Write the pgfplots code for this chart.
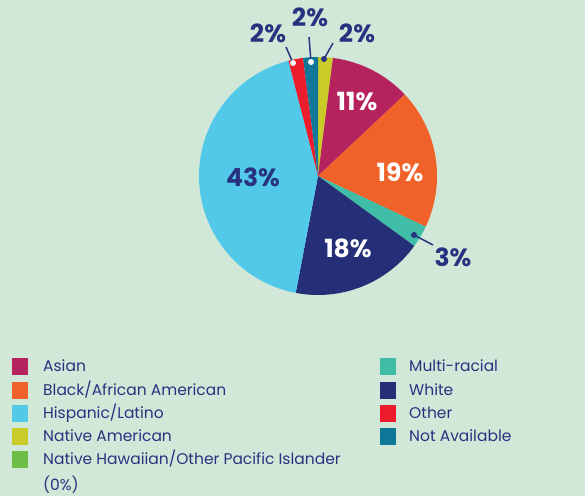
\documentclass[border=0pt]{standalone}
\usepackage{pgfplots}
\usepackage{pgfplotstable}
\pgfplotsset{compat=1.18}
\usepackage{fontspec}
\setmainfont{Poppins}
\definecolor{bg}{HTML}{D1E8D9}
\definecolor{navy}{HTML}{283380}
\definecolor{cAsian}{HTML}{B5235F}
\definecolor{cBlack}{HTML}{F1622B}
\definecolor{cHisp}{HTML}{52C9E9}
\definecolor{cNat}{HTML}{C9CC26}
\definecolor{cHaw}{HTML}{6CBE47}
\definecolor{cMulti}{HTML}{3FBDA6}
\definecolor{cWhite}{HTML}{252F78}
\definecolor{cOther}{HTML}{EC1C2D}
\definecolor{cNA}{HTML}{107799}
% clockwise from 12 o'clock
\pgfplotstableread{
label value color
Native 2 cNat
Asian 11 cAsian
Black 19 cBlack
Multi 3 cMulti
White 18 cWhite
Hispanic 43 cHisp
Other 2 cOther
NA 2 cNA
}\piedata
\begin{document}
\begin{tikzpicture}
\fill[bg] (0,0) rectangle (585pt,496pt);
\useasboundingbox (0,0) rectangle (585pt,496pt);
\begin{axis}[x=1pt,y=1pt,xmin=0,xmax=585,ymin=0,ymax=496,hide axis,scale only axis,
  at={(0,0)},anchor=origin,clip=false]
\def\cum{0}
\pgfplotsforeachungrouped \i in {0,...,7}{%
  \pgfplotstablegetelem{\i}{value}\of\piedata
  \pgfmathsetmacro\v{\pgfplotsretval}%
  \pgfplotstablegetelem{\i}{color}\of\piedata
  \edef\c{\pgfplotsretval}%
  \pgfmathsetmacro\a{90-3.6*\cum}%
  \pgfmathsetmacro\b{90-3.6*(\cum+\v)}%
  \edef\temp{\noexpand\fill[\c] (axis cs:318,320) -- ++(\a:119pt) arc[start angle=\a, end angle=\b, radius=119pt] -- cycle;}%
  \temp
  \pgfmathsetmacro\cum{\cum+\v}%
}
\end{axis}
% labels
\begin{scope}[font=\fontsize{25}{28}\selectfont\bfseries]
\node[white] at (357pt,394pt) {11\%};
\node[white] at (400pt,324pt) {19\%};
\node[white] at (348pt,248pt) {18\%};
\node[navy] at (253pt,319pt) {43\%};
\node[navy] at (268pt,463pt) {2\%};
\node[navy] at (310pt,479pt) {2\%};
\node[navy] at (357pt,463pt) {2\%};
\node[navy] at (453pt,239pt) {3\%};
\end{scope}
\draw[navy,line width=1.5pt] (286pt,449pt) -- (293pt,433pt);
\draw[navy,line width=1.5pt] (309pt,459pt) -- (311pt,434pt);
\draw[navy,line width=1.5pt] (333pt,453pt) -- (324pt,437pt);
\draw[navy,line width=1.5pt] (433pt,251pt) -- (414pt,261pt);
\fill[white] (293pt,433pt) circle (3pt);
\fill[white] (311pt,434pt) circle (3pt);
\fill[navy] (324pt,437pt) circle (3pt);
\fill[navy] (414pt,261pt) circle (3pt);
% legend
\begin{scope}[font=\fontsize{15.5}{18}\selectfont, text=navy]
\foreach \y/\c/\t in {130/cAsian/Asian,106/cBlack/Black\slash African American,83/cHisp/Hispanic\slash Latino,60/cNat/Native American,37/cHaw/Native Hawaiian\slash Other Pacific Islander}{
  \fill[\c] (12pt,\y pt-8.5pt) rectangle (28pt,\y pt+8.5pt);
  \node[anchor=west,inner sep=0pt] at (43pt,\y pt) {\t};
}
\node[anchor=west,inner sep=0pt] at (43pt,11pt) {(0\%)};
\foreach \y/\c/\t in {130/cMulti/Multi-racial,106/cWhite/White,83/cOther/Other,60/cNA/Not Available}{
  \fill[\c] (380pt,\y pt-8.5pt) rectangle (396pt,\y pt+8.5pt);
  \node[anchor=west,inner sep=0pt] at (409pt,\y pt) {\t};
}
\end{scope}
\end{tikzpicture}
\end{document}
